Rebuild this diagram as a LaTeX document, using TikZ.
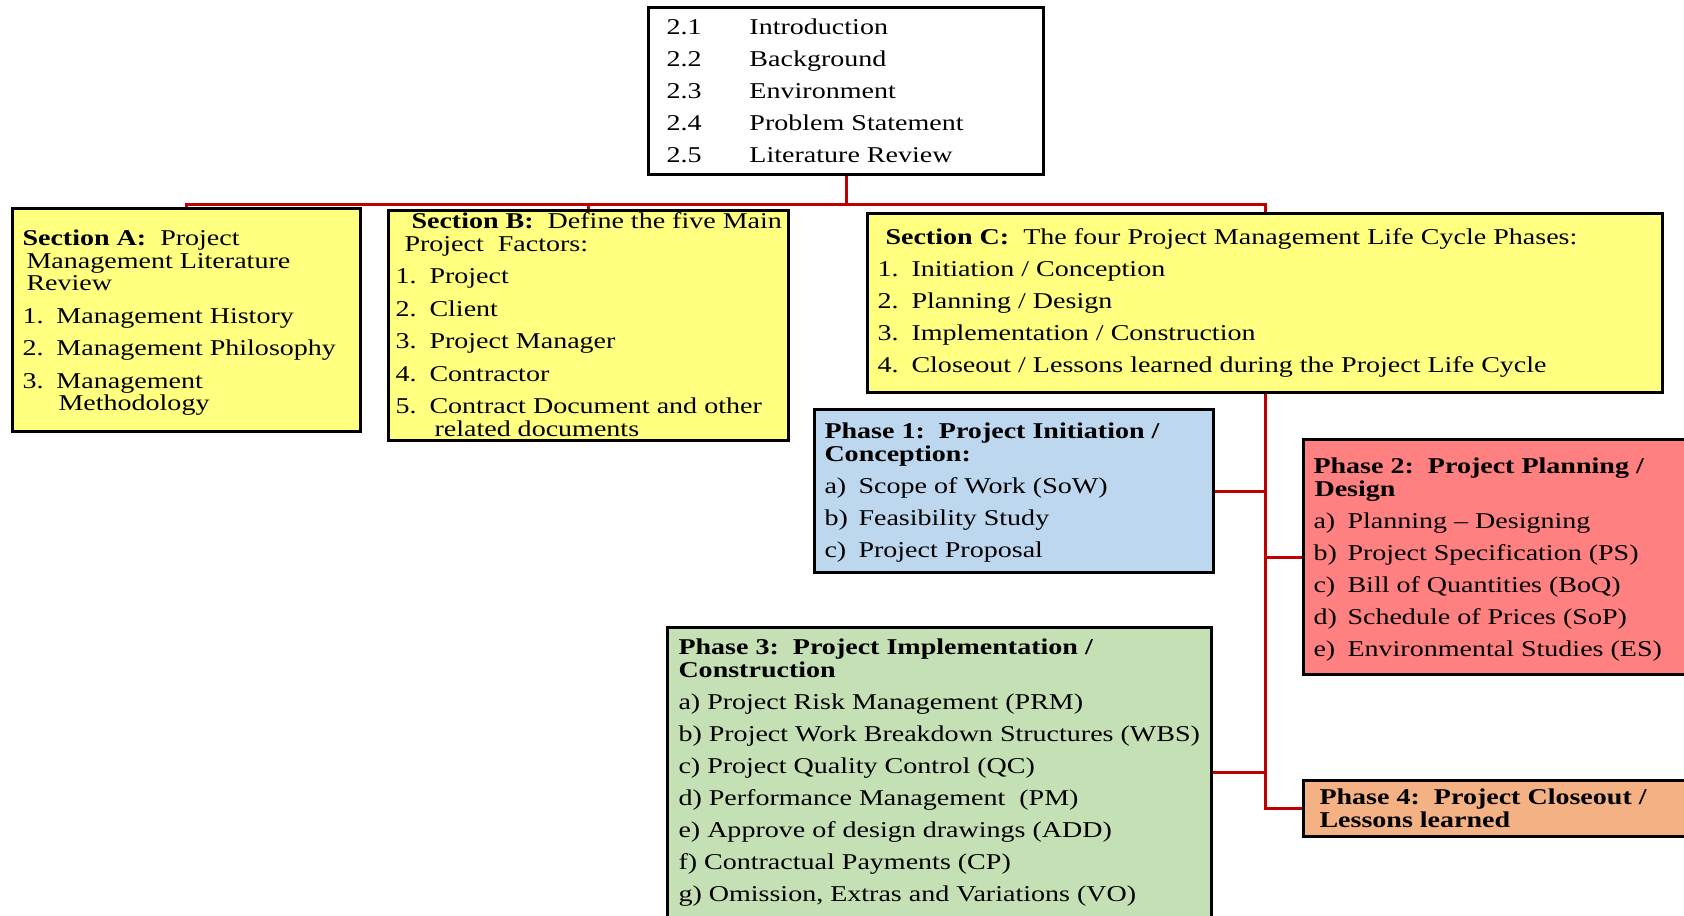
\documentclass[tikz,border=0pt]{standalone}
\usepackage{fontspec}
\setmainfont{Liberation Serif}[FakeStretch=1.24]
\usepackage{xcolor}
\definecolor{secyellow}{RGB}{255, 255, 128}
\definecolor{phaseblue}{RGB}{189, 215, 238}
\definecolor{phasered}{RGB}{255, 128, 128}
\definecolor{phasegreen}{RGB}{197, 224, 180}
\definecolor{phaseorange}{RGB}{244, 177, 131}
\definecolor{linkred}{RGB}{192, 0, 0}
\usetikzlibrary{positioning,calc}

\newcommand{\fl}{\rule{0pt}{8pt}}
\newcommand{\itm}[2]{\mbox{\makebox[17pt][l]{#1}#2}}
\newcommand{\panelbody}[4]{\parbox[t][#1][t]{#2}{\raggedright\vspace*{#3}\fl#4}}

\begin{document}
\begin{tikzpicture}[
    x=0.5pt, y=-0.5pt,
    panel/.style={
        rectangle,
        draw=black,
        line width=1.5pt,
        inner ysep=0pt,
        anchor=north west,
        font=\fontsize{11.3}{11.25}\selectfont
    },
    link/.style={draw=linkred, line width=1.5pt}
]
    \useasboundingbox (0,0) rectangle (1684,915);
    \clip (0,0) rectangle (1684,915);

    % Chapter contents
    \node[panel, fill=white, inner xsep=9pt] (intro) at (647,6) {\panelbody{83.5pt}{179.5pt}{5.5pt}{%
        \makebox[41.5pt][l]{2.1}Introduction\\[4.75pt]
        \makebox[41.5pt][l]{2.2}Background\\[4.75pt]
        \makebox[41.5pt][l]{2.3}Environment\\[4.75pt]
        \makebox[41.5pt][l]{2.4}Problem Statement\\[4.75pt]
        \makebox[41.5pt][l]{2.5}Literature Review}};

    % Sections
    \node[panel, fill=secyellow, inner xsep=5pt] (secA) at (11,207) {\panelbody{111.5pt}{164pt}{10.5pt}{%
        \mbox{\textbf{Section A:}\ \ Project}\\
        \hspace*{2pt}Management Literature\\
        \hspace*{2pt}Review\\[5pt]
        \itm{1.}{Management History}\\[5pt]
        \itm{2.}{Management Philosophy}\\[5pt]
        \itm{3.}{Management}\\
        \hspace*{18pt}Methodology}};

    \node[panel, fill=secyellow, inner xsep=3.5pt] (secB) at (387,209) {\panelbody{115pt}{193pt}{1pt}{%
        \mbox{\hspace*{8pt}\textbf{Section B:}\ \ Define the five Main}\\
        \hspace*{4.5pt}Project\ \ Factors:\\[5pt]
        \itm{1.}{Project}\\[5pt]
        \itm{2.}{Client}\\[5pt]
        \itm{3.}{Project Manager}\\[5pt]
        \itm{4.}{Contractor}\\[5pt]
        \itm{5.}{Contract Document and other}\\
        \hspace*{19.5pt}related documents}};

    \node[panel, fill=secyellow, inner xsep=5pt] (secC) at (866,212) {\panelbody{89.5pt}{387.5pt}{7.5pt}{%
        \mbox{\hspace*{4pt}\textbf{Section C:}\ \ The four Project Management Life Cycle Phases:}\\[4.75pt]
        \itm{1.}{Initiation / Conception}\\[4.75pt]
        \itm{2.}{Planning / Design}\\[4.75pt]
        \itm{3.}{Implementation / Construction}\\[4.75pt]
        \itm{4.}{Closeout / Lessons learned during the Project Life Cycle}}};

    % Phases
    \node[panel, fill=phaseblue, inner xsep=5pt] (ph1) at (813,408) {\panelbody{81.5pt}{189.5pt}{6.5pt}{%
        \mbox{\textbf{Phase 1:\ \ Project Initiation /}}\\
        \textbf{Conception:}\\[5pt]
        \itm{a)}{Scope of Work (SoW)}\\[4.75pt]
        \itm{b)}{Feasibility Study}\\[4.75pt]
        \itm{c)}{Project Proposal}}};

    \node[panel, fill=phasered, inner xsep=5pt] (ph2) at (1302,438) {\panelbody{117.5pt}{200pt}{9pt}{%
        \mbox{\textbf{Phase 2:\ \ Project Planning /}}\\
        \hspace*{0.5pt}\textbf{Design}\\[5pt]
        \itm{a)}{Planning \textendash\ Designing}\\[4.75pt]
        \itm{b)}{Project Specification (PS)}\\[4.75pt]
        \itm{c)}{Bill of Quantities (BoQ)}\\[4.75pt]
        \itm{d)}{Schedule of Prices (SoP)}\\[4.75pt]
        \itm{e)}{Environmental Studies (ES)}}};

    \node[panel, fill=phasegreen, inner xsep=5.5pt] (ph3) at (666,626) {\panelbody{145pt}{261pt}{5.5pt}{%
        \mbox{\textbf{Phase 3:\ \ Project Implementation /}}\\
        \textbf{Construction}\\[5pt]
        \mbox{a) Project Risk Management (PRM)}\\[4.75pt]
        \mbox{b) Project Work Breakdown Structures (WBS)}\\[4.75pt]
        \mbox{c) Project Quality Control (QC)}\\[4.75pt]
        \mbox{d) Performance Management\ \ (PM)}\\[4.75pt]
        \mbox{e) Approve of design drawings (ADD)}\\[4.75pt]
        \mbox{f) Contractual Payments (CP)}\\[4.75pt]
        \mbox{g) Omission, Extras and Variations (VO)}}};

    \node[panel, fill=phaseorange, inner xsep=8pt] (ph4) at (1302,779) {\panelbody{28pt}{194pt}{4pt}{%
        \mbox{\textbf{Phase 4:\ \ Project Closeout /}}\\
        \textbf{Lessons learned}}};

    % Connectors
    \coordinate (hub) at ([yshift=-14pt]intro.south);
    \draw[link] (intro.south) -- (hub) -| (secA.north);
    \draw[link] (hub) -| (secB.north);
    \draw[link] (hub) -| (secC.north);

    \draw[link] (secC.south) |- (ph4.west);
    \draw[link] (ph1.east) -- (ph1.east -| secC.south);
    \draw[link] (ph2.west) -- (ph2.west -| secC.south);
    \draw[link] (ph3.east) -- (ph3.east -| secC.south);
\end{tikzpicture}
\end{document}
